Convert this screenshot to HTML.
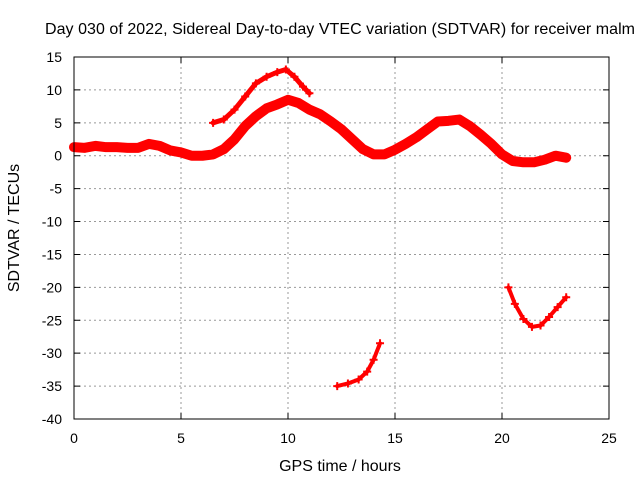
<!DOCTYPE html>
<html><head><meta charset="utf-8"><style>
body{margin:0;background:#fff;}
svg{display:block;font-family:"Liberation Sans",sans-serif;}
</style></head><body>
<svg id="chart" width="640" height="480" viewBox="0 0 640 480">
<rect width="640" height="480" fill="#fff"/>
<g id="grid"></g>
<g id="marks"></g>
<rect x="74" y="57" width="535" height="362" fill="none" stroke="#000" stroke-width="1"/>
<g id="ticks" font-size="14" fill="#000"></g>
<text x="340" y="34" text-anchor="middle" font-size="16" textLength="590">Day 030 of 2022, Sidereal Day-to-day VTEC variation (SDTVAR) for receiver malm</text>
<text x="340" y="471" text-anchor="middle" font-size="16">GPS time / hours</text>
<text transform="translate(19,228) rotate(-90)" text-anchor="middle" font-size="16">SDTVAR / TECUs</text>
</svg>
<script>
const xTicks=[0,5,10,15,20,25];
const yTicks=[15,10,5,0,-5,-10,-15,-20,-25,-30,-35,-40];
const mainT=[0,0.5,1,1.5,2,2.5,3,3.5,4,4.5,5,5.5,6,6.5,7,7.5,8,8.5,9,9.5,10,10.5,11,11.5,12,12.5,13,13.5,14,14.5,15,15.5,16,16.5,17,17.5,18,18.5,19,19.5,20,20.5,21,21.5,22,22.5,23];
const mainV=[1.3,1.2,1.5,1.3,1.3,1.2,1.2,1.8,1.5,0.8,0.5,0,0,0.2,1,2.5,4.5,6,7.2,7.8,8.5,8,7,6.3,5.2,4,2.5,1,0.2,0.2,0.9,1.8,2.8,4,5.2,5.3,5.5,4.5,3.2,1.8,0.2,-0.8,-1,-1,-0.6,0,-0.3];
const upperT=[6.5,7,7.5,8,8.5,9,9.5,9.9,10.3,10.7,11];
const upperV=[5,5.5,7,9,11,12,12.7,13.1,12,10.5,9.5];
const lowT=[12.3,12.8,13.3,13.7,14,14.3];
const lowV=[-35,-34.6,-34,-32.8,-31,-28.5];
const dipT=[20.3,20.6,21,21.4,21.8,22.2,22.6,23];
const dipV=[-20,-22.5,-24.8,-26,-25.8,-24.5,-23,-21.5];
const X=t=>74+t*535/25, Y=v=>57+(15-v)*362/55;
const ns='http://www.w3.org/2000/svg';
const grid=document.getElementById('grid'),ticks=document.getElementById('ticks'),marks=document.getElementById('marks');
function mk(tag,attrs,parent){const e=document.createElementNS(ns,tag);for(const k in attrs)e.setAttribute(k,attrs[k]);parent.appendChild(e);return e;}
xTicks.forEach(t=>{
 if(t>0&&t<25){const l=mk('line',{x1:X(t),x2:X(t),y1:57,y2:419,stroke:'#999','stroke-dasharray':'2,3'},grid);
 
 }
 const tm=mk('path',{d:`M${X(t)},419v-6M${X(t)},57v6`,stroke:'#000'},grid);
 
 
 const s=mk('text',{x:X(t),y:443,'text-anchor':'middle'},ticks);s.textContent=t;
 
 
});
yTicks.forEach(v=>{
 if(v<15&&v>-40){const l=mk('line',{x1:74,x2:609,y1:Y(v),y2:Y(v),stroke:'#999','stroke-dasharray':'2,3'},grid);
 
 }
 const tm=mk('path',{d:`M74,${Y(v)}h6M609,${Y(v)}h-6`,stroke:'#000'},grid);
 
 
 const s=mk('text',{x:62,y:Y(v)+5,'text-anchor':'end'},ticks);s.textContent=v;
 
 
});
function series(T,V,w,name){
 const pts=T.map((t,i)=>X(t)+','+Y(V[i])).join(' ');
 const p=mk('polyline',{points:pts,fill:'none',stroke:'#f00','stroke-width':w,'stroke-linejoin':'round','stroke-linecap':'round'},marks);
 
 
 T.forEach((t,i)=>{const m=mk('path',{d:`M${X(t)-4},${Y(V[i])}h8M${X(t)},${Y(V[i])-4}v8`,stroke:'#f00','stroke-width':2},marks);
 
 });
}
series(mainT,mainV,10,'main-series');
series(upperT,upperV,5,'upper-series');
series(lowT,lowV,4,'low-series');
series(dipT,dipV,4,'dip-series');
</script>
</body></html>
